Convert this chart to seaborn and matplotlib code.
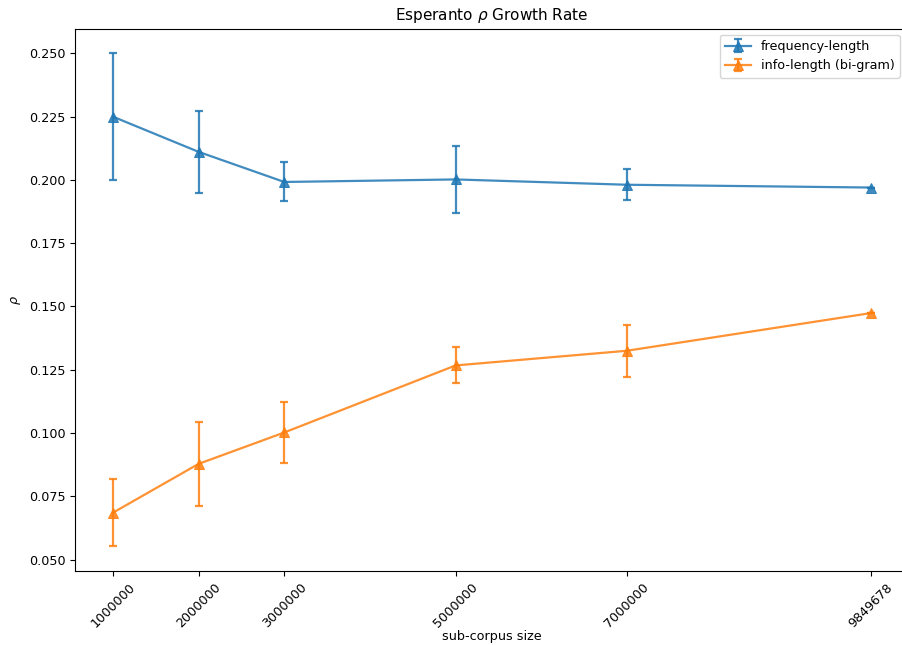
import numpy as np
import pandas as pd
import matplotlib
matplotlib.use("Agg")
import matplotlib.pyplot as plt
import seaborn as sns
from matplotlib.container import ErrorbarContainer

sizes = [1000000, 2000000, 3000000, 5000000, 7000000, 9849678]
tick_labels = ["1000000", "2000000", "3000000", "5000000", "7000000", "9849678"]
freq_rho = [0.2250, 0.2111, 0.1992, 0.2002, 0.1981, 0.1970]
freq_err = [0.0251, 0.0161, 0.0077, 0.0131, 0.0062, 0.0]
info_rho = [0.0685, 0.0878, 0.1002, 0.1267, 0.1325, 0.1474]
info_err = [0.0133, 0.0165, 0.0119, 0.0071, 0.0103, 0.0]
series_names = ["frequency-length", "info-length (bi-gram)"]

plt.rcParams["font.size"] = 9.2

fig = plt.figure(figsize=(9.03, 6.45), dpi=100)
ax = fig.add_axes([0.0831, 0.1147, 1.0066 - 0.0831, 0.9558 - 0.1147])

colors = ["#1f77b4", "#ff7f0e"]
handles = []
for name, vals, errs, col in zip(series_names, [freq_rho, info_rho], [freq_err, info_err], colors):
    df = pd.DataFrame({"size": sizes, "rho": vals})
    sns.lineplot(data=df, x="size", y="rho", ax=ax, color=col, marker="^",
                 markersize=6.5, markeredgecolor=col, linewidth=1.6, alpha=0.85,
                 legend=False)
    line = ax.lines[-1]
    eb = ax.errorbar(sizes, vals, yerr=errs, fmt="none", ecolor=col, elinewidth=1.6,
                     capsize=3, capthick=1.6, alpha=0.85)
    handles.append(ErrorbarContainer((line, eb.lines[1], eb.lines[2]),
                                     has_xerr=False, has_yerr=True, label=name))

ax.set_xticks(sizes)
ax.set_xticklabels(tick_labels, rotation=45)
ax.set_yticks([0.05, 0.075, 0.1, 0.125, 0.15, 0.175, 0.2, 0.225, 0.25])
ax.set_xlabel("sub-corpus size", labelpad=0)
ax.set_ylabel(r"$\rho$")
ax.set_title(r"Esperanto $\rho$ Growth Rate", fontsize=11)
ax.legend(handles=handles, labels=series_names, loc="upper right",
          bbox_to_anchor=(0.9965, 1.0))

fig.savefig("out.png", dpi=100)
